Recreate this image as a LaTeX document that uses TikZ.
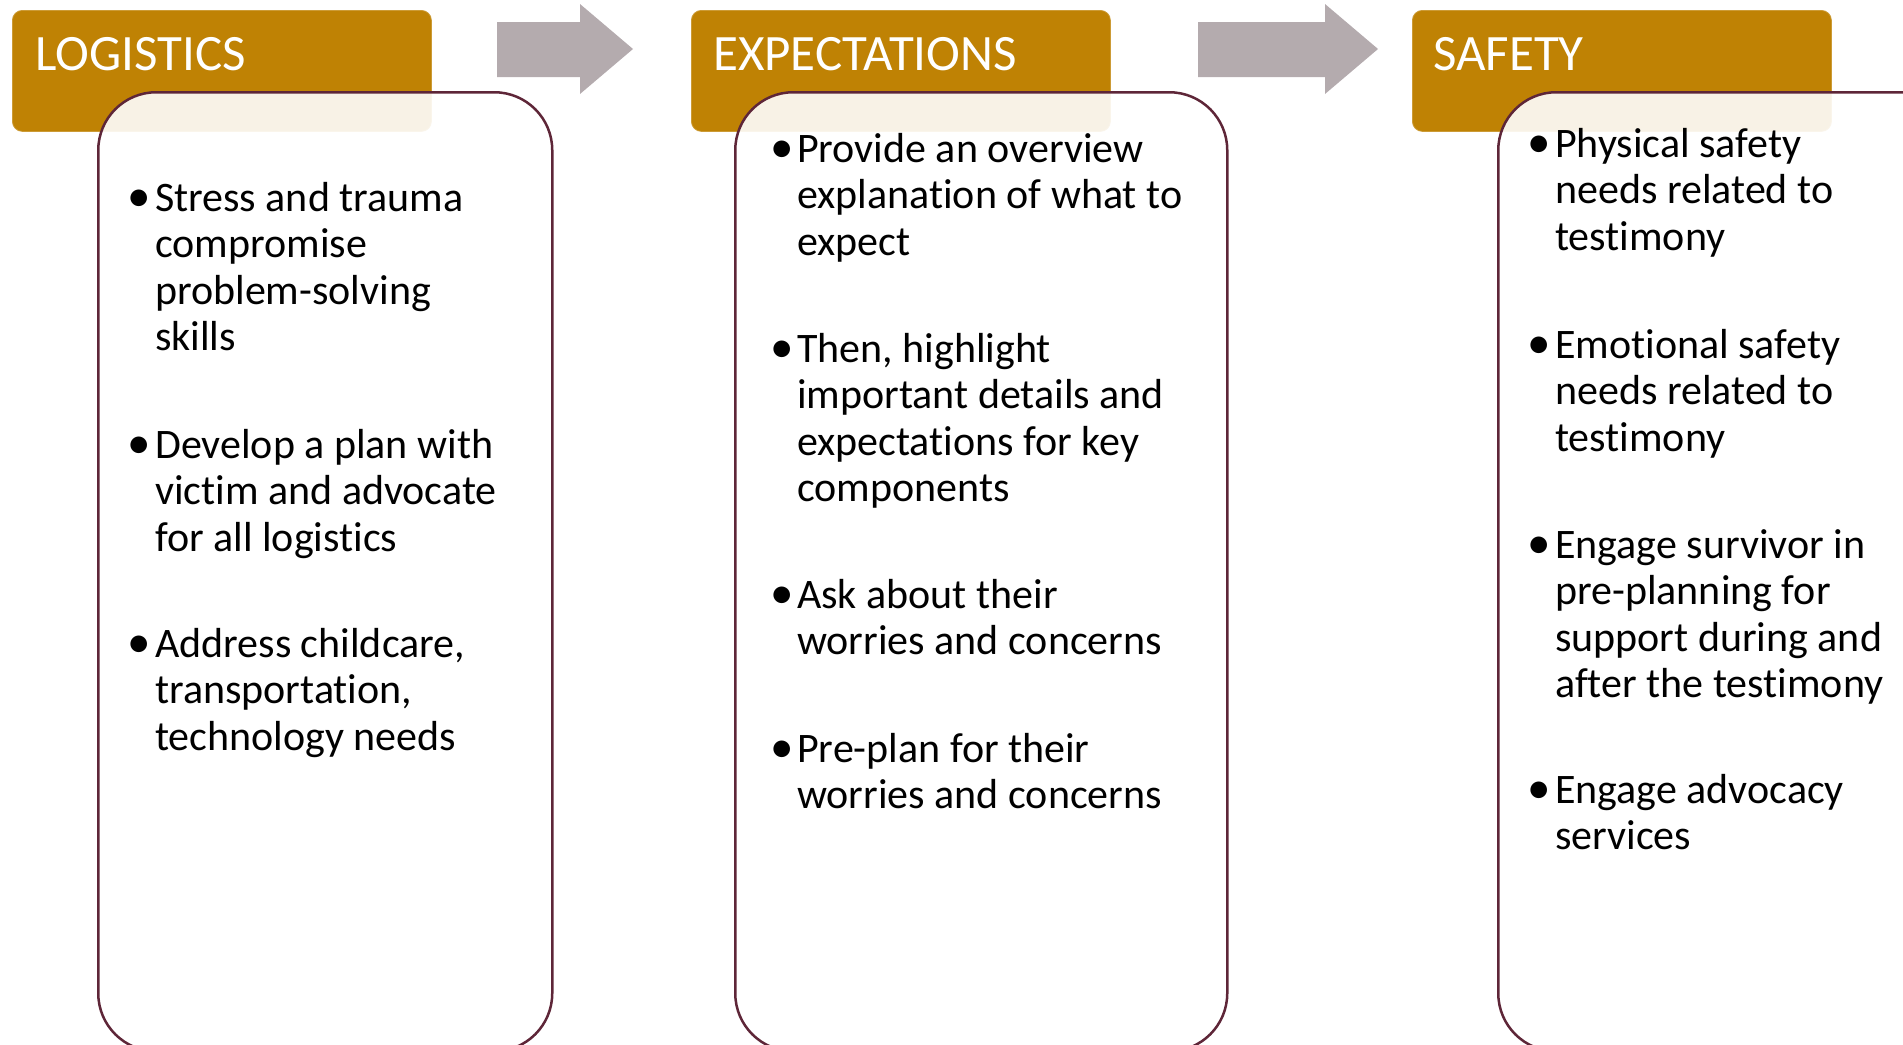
\documentclass[tikz,border=0pt]{standalone}
\usepackage{fontspec}
\setmainfont{Carlito}[Ligatures={NoCommon}]
\definecolor{gold}{RGB}{191,130,4}
\definecolor{maroon}{RGB}{94,38,56}
\definecolor{arrowgray}{RGB}{180,171,174}
\begin{document}
\begin{tikzpicture}[x=1pt,y=-1pt,
  hdr/.style={fill=gold, draw=gold!80!white, line width=0.8pt, rounded corners=10pt, anchor=north west, inner sep=0pt, minimum height=121pt, minimum width=419pt},
  bodybox/.style={draw=maroon, line width=2.5pt, fill=white, fill opacity=0.9, rounded corners=58pt, anchor=north west, inner sep=0pt, minimum height=959pt},
  arr/.style={fill=arrowgray},
  txt/.style={anchor=base west, inner sep=0pt, font=\fontsize{42}{46}\selectfont},
  bul/.style={anchor=center, inner sep=0pt, font=\fontsize{47}{50}\selectfont},
  htxt/.style={anchor=base west, inner sep=0pt, text=white, font=\fontsize{51}{60}\selectfont}]
\useasboundingbox (0,0) rectangle (1903,1044);
\clip (0,0) rectangle (1903,1044);
% headers
\node[hdr] (h1) at (12,10) {};
\node[hdr] (h2) at (691,10) {};
\node[hdr] (h3) at (1412,10) {};
\node[htxt] (h1t) at (35,70.5) {LOGISTICS};
\node[htxt] (h2t) at (713,70.5) {EXPECTATIONS};
\node[htxt] (h3t) at (1433,70.5) {SAFETY};
% bodies
\node[bodybox, minimum width=454pt] (b1) at (97,91) {};
\node[bodybox, minimum width=492pt] (b2) at (734,91) {};
\node[bodybox, minimum width=470pt] (b3) at (1497,91) {};
% arrows
\fill[arr] (497,22) -- (580,22) -- (580,4) -- (633,49) -- (580,94) -- (580,77) -- (497,77) -- cycle;
\fill[arr] (1198,22) -- (1325,22) -- (1325,4) -- (1378,49) -- (1325,94) -- (1325,77) -- (1198,77) -- cycle;
% column 1
\node[bul] (c1ab) at (139,{211.5-11}) {•};
\foreach \t [count=\i] in {Stress and trauma, compromise, problem-solving, skills}
  \node[txt] (c1a\i) at (155,{211.5+(\i-1)*46.3}) {\t};
\node[bul] (c1bb) at (139,{458.5-11}) {•};
\foreach \t [count=\i] in {Develop a plan with, victim and advocate, for all logistics}
  \node[txt] (c1b\i) at (155,{458.5+(\i-1)*46.3}) {\t};
\node[bul] (c1cb) at (139,{657.5-11}) {•};
\foreach \t [count=\i] in {{Address childcare,}, {transportation,}, technology needs}
  \node[txt] (c1c\i) at (155,{657.5+(\i-1)*46.3}) {\t};
% column 2
\node[bul] (c2ab) at (782,{162.5-11}) {•};
\foreach \t [count=\i] in {Provide an overview, explanation of what to, expect}
  \node[txt] (c2a\i) at (797,{162.5+(\i-1)*46.3}) {\t};
\node[bul] (c2bb) at (782,{362.5-11}) {•};
\foreach \t [count=\i] in {{Then, highlight}, important details and, expectations for key, components}
  \node[txt] (c2b\i) at (797,{362.5+(\i-1)*46.3}) {\t};
\node[bul] (c2cb) at (782,{608.5-11}) {•};
\foreach \t [count=\i] in {Ask about their, worries and concerns}
  \node[txt] (c2c\i) at (797,{608.5+(\i-1)*46.3}) {\t};
\node[bul] (c2db) at (782,{762.5-11}) {•};
\foreach \t [count=\i] in {Pre-plan for their, worries and concerns}
  \node[txt] (c2d\i) at (797,{762.5+(\i-1)*46.3}) {\t};
% column 3
\node[bul] (c3ab) at (1539,{157.5-11}) {•};
\foreach \t [count=\i] in {Physical safety, needs related to, testimony}
  \node[txt] (c3a\i) at (1555,{157.5+(\i-1)*46.3}) {\t};
\node[bul] (c3bb) at (1539,{358.5-11}) {•};
\foreach \t [count=\i] in {Emotional safety, needs related to, testimony}
  \node[txt] (c3b\i) at (1555,{358.5+(\i-1)*46.3}) {\t};
\node[bul] (c3cb) at (1539,{558.5-11}) {•};
\foreach \t [count=\i] in {Engage survivor in, pre-planning for, support during and, after the testimony}
  \node[txt] (c3c\i) at (1555,{558.5+(\i-1)*46.3}) {\t};
\node[bul] (c3db) at (1539,{803.5-11}) {•};
\foreach \t [count=\i] in {Engage advocacy, services}
  \node[txt] (c3d\i) at (1555,{803.5+(\i-1)*46.3}) {\t};
\end{tikzpicture}
\end{document}
